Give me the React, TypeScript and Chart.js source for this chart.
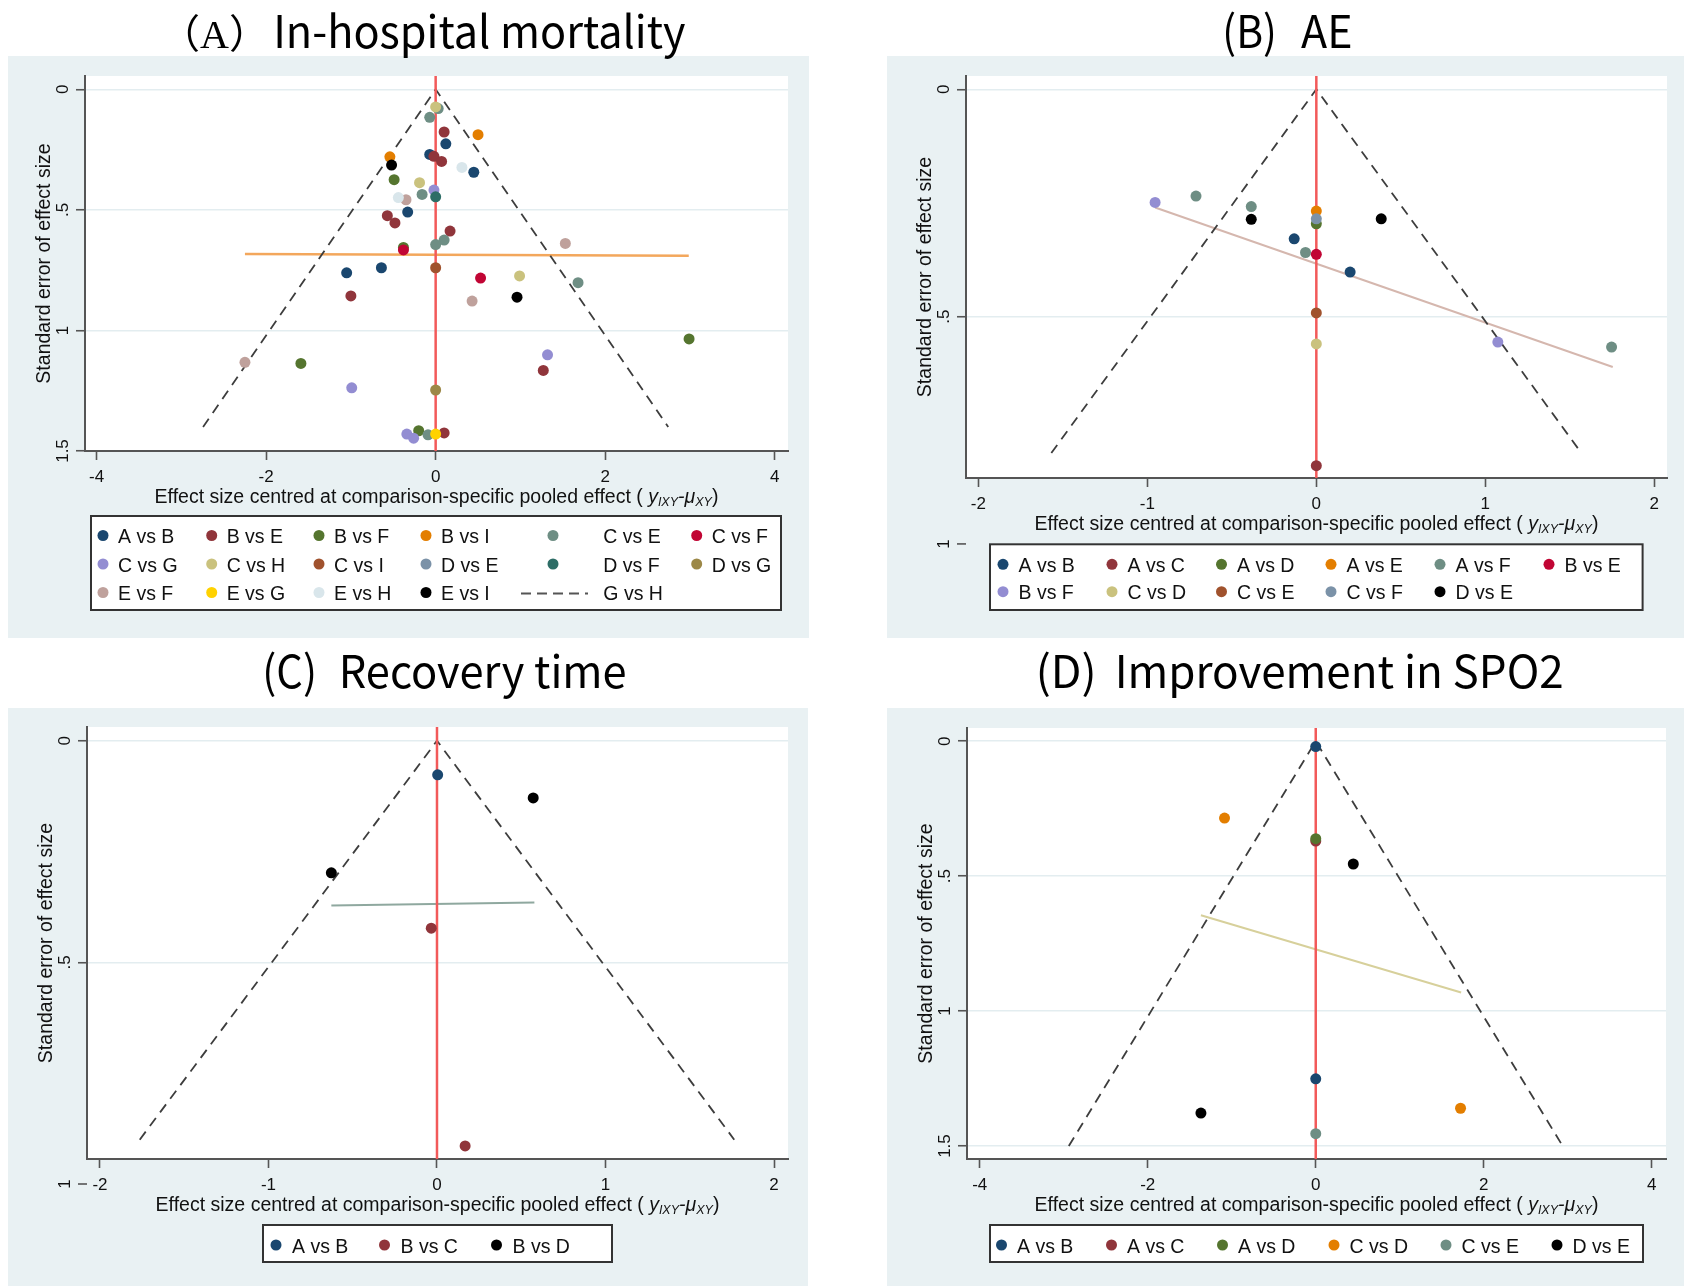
import React, { useEffect, useRef } from "react";
import { Chart, registerables } from "chart.js";
Chart.register(...registerables);

// ======================= DATA =======================
// ---------- Panel A : In-hospital mortality ----------
const aComparisons = ["A vs B", "B vs E", "B vs F", "B vs I", "C vs E", "C vs F", "C vs G", "C vs H", "C vs I", "D vs E", "D vs F", "D vs G", "E vs F", "E vs G", "E vs H", "E vs I"];
const aLineLegend = "G vs H";
const aPointCmp = ["C vs E", "C vs H", "C vs E", "B vs E", "B vs I", "A vs B", "A vs B", "B vs E", "B vs E", "B vs I", "E vs I", "E vs H", "A vs B", "B vs F", "C vs H", "C vs G", "C vs E", "D vs F", "E vs H", "E vs F", "A vs B", "B vs E", "B vs E", "B vs E", "C vs E", "C vs E", "B vs F", "C vs F", "E vs F", "A vs B", "A vs B", "C vs I", "C vs F", "C vs H", "C vs E", "B vs E", "E vs I", "E vs F", "B vs F", "C vs G", "E vs F", "B vs F", "B vs E", "C vs G", "D vs G", "B vs F", "C vs G", "C vs G", "C vs E", "E vs G", "B vs E"];
const aPointX = [0.03, 0.0, -0.07, 0.1, 0.5, 0.12, -0.07, -0.02, 0.07, -0.54, -0.52, 0.31, 0.45, -0.49, -0.19, -0.02, -0.16, 0.0, -0.44, -0.35, -0.33, -0.57, -0.48, 0.17, 0.1, 0.0, -0.38, -0.38, 1.53, -1.05, -0.64, 0.0, 0.53, 0.99, 1.68, -1.0, 0.96, 0.43, 2.99, 1.32, -2.25, -1.59, 1.27, -0.99, 0.0, -0.2, -0.34, -0.26, -0.09, 0.0, 0.1];
const aPointY = [0.08, 0.073, 0.116, 0.177, 0.188, 0.226, 0.27, 0.278, 0.299, 0.28, 0.314, 0.324, 0.344, 0.375, 0.387, 0.418, 0.436, 0.446, 0.449, 0.458, 0.509, 0.524, 0.554, 0.588, 0.625, 0.644, 0.656, 0.666, 0.639, 0.761, 0.74, 0.74, 0.783, 0.774, 0.802, 0.857, 0.862, 0.878, 1.035, 1.101, 1.132, 1.137, 1.166, 1.238, 1.247, 1.416, 1.43, 1.447, 1.433, 1.43, 1.425];
const aFunnelX = [-2.744, 0, 2.744];
const aFunnelY = [1.4, 0, 1.4];
const aFitX = [-2.25, 2.986];
const aFitY = [0.683, 0.69];
const aXTicks = [-4, -2, 0, 2, 4];
const aXTickLabels = ["-4", "-2", "0", "2", "4"];
const aYTicks = [0, 0.5, 1, 1.5];
const aYTickLabels = ["0", ".5", "1", "1.5"];

// ---------- Panel B : AE ----------
const bComparisons = ["A vs B", "A vs C", "A vs D", "A vs E", "A vs F", "B vs E", "B vs F", "C vs D", "C vs E", "C vs F", "D vs E"];
const bPointCmp = ["B vs F", "A vs F", "A vs F", "D vs E", "A vs E", "C vs F", "A vs D", "D vs E", "A vs B", "A vs F", "B vs E", "A vs B", "C vs E", "C vs D", "B vs F", "A vs F", "A vs C"];
const bPointX = [-0.954, -0.712, -0.385, -0.385, 0, 0, 0, 0.384, -0.131, -0.064, 0, 0.2, 0, 0, 1.074, 1.747, 0];
const bPointY = [0.249, 0.235, 0.258, 0.286, 0.268, 0.285, 0.296, 0.285, 0.329, 0.359, 0.363, 0.402, 0.492, 0.56, 0.556, 0.567, 0.828];
const bFunnelX = [-1.568, 0, 1.568];
const bFunnelY = [0.8, 0, 0.8];
const bFitX = [-0.954, 1.754];
const bFitY = [0.26, 0.611];
const bXTicks = [-2, -1, 0, 1, 2];
const bXTickLabels = ["-2", "-1", "0", "1", "2"];
const bYTicks = [0, 0.5];
const bYTickLabels = ["0", ".5"];
const bYExtraTicks = [1];
const bYExtraLabels = ["1"];

// ---------- Panel C : Recovery time ----------
const cComparisons = ["A vs B", "B vs C", "B vs D"];
const cPointCmp = ["A vs B", "B vs D", "B vs D", "B vs C", "B vs C"];
const cPointX = [0.004, 0.571, -0.627, -0.034, 0.167];
const cPointY = [0.077, 0.129, 0.298, 0.423, 0.914];
const cFunnelX = [-1.764, 0, 1.764];
const cFunnelY = [0.9, 0, 0.9];
const cFitX = [-0.627, 0.578];
const cFitY = [0.372, 0.365];
const cXTicks = [-2, -1, 0, 1, 2];
const cXTickLabels = ["-2", "-1", "0", "1", "2"];
const cYTicks = [0, 0.5];
const cYTickLabels = ["0", ".5"];
const cYExtraTicks = [1];
const cYExtraLabels = ["1"];

// ---------- Panel D : Improvement in SPO2 ----------
const dComparisons = ["A vs B", "A vs C", "A vs D", "C vs D", "C vs E", "D vs E"];
const dPointCmp = ["A vs B", "C vs D", "A vs C", "A vs D", "D vs E", "A vs B", "C vs D", "D vs E", "C vs E"];
const dPointX = [0, -1.086, 0, 0, 0.447, 0, 1.724, -1.367, 0];
const dPointY = [0.02, 0.285, 0.37, 0.361, 0.455, 1.251, 1.36, 1.378, 1.454];
const dFunnelX = [-2.94, 0, 2.94];
const dFunnelY = [1.5, 0, 1.5];
const dFitX = [-1.367, 1.731];
const dFitY = [0.645, 0.931];
const dXTicks = [-4, -2, 0, 2, 4];
const dXTickLabels = ["-4", "-2", "0", "2", "4"];
const dYTicks = [0, 0.5, 1, 1.5];
const dYTickLabels = ["0", ".5", "1", "1.5"];

// ---------- Texts ----------
const yTitleText = "Standard error of effect size";
const xTitleMain = "Effect size centred at comparison-specific pooled effect ( ";
const xTitleY = "y";
const xTitleSub1 = "IXY";
const xTitleDash = "-";
const xTitleMu = "μ";
const xTitleSub2 = "XY";
const xTitleEnd = ")";

// ======================= STYLES =======================
const NAVY = "#1a476f", MAROON = "#90353b", FOREST = "#55752f", DKORANGE = "#e37e00", TEAL = "#6e8e84",
  CRANBERRY = "#c10534", LAVENDER = "#938dd2", KHAKI = "#cac27e", SIENNA = "#a0522d", EMIDBLUE = "#7b92a8",
  EMERALD = "#2d6d66", BROWN = "#9c8847", EROSE = "#bfa19c", GOLD = "#ffd200", BLUISHGRAY = "#d9e6eb", BLACK = "#000000";
const aColors = [NAVY, MAROON, FOREST, DKORANGE, TEAL, CRANBERRY, LAVENDER, KHAKI, SIENNA, EMIDBLUE, EMERALD, BROWN, EROSE, GOLD, BLUISHGRAY, BLACK];
const bColors = [NAVY, MAROON, FOREST, DKORANGE, TEAL, CRANBERRY, LAVENDER, KHAKI, SIENNA, EMIDBLUE, BLACK];
const cColors = [NAVY, MAROON, BLACK];
const dColors = [NAVY, MAROON, FOREST, DKORANGE, TEAL, BLACK];

const GREY_BG = "#e9f1f3";
const GRID = "#e3edf0";
const AXIS = "#555555";
const TEXT = "#111111";
const RED = "#f25a5a";
const FUNNEL = "#3d3d3d";
const FONT = '"Liberation Sans", Arial, sans-serif';
const TITLE_FONT = '"Noto Sans CJK SC", "Noto Sans", sans-serif';

// ======================= LAYOUT =======================
type Run = { text: string; font: string; l: number; r: number };
const PANELS: any[] = [
  {
    key: "A", cell: { x: 0, y: 0, w: 842, h: 643 }, grey: { x: 8, y: 56, w: 801, h: 582 },
    plot: { l: 85, t: 76, r: 788, b: 451 }, xMin: -4.137, xMax: 4.157, yMin: -0.0552, yMax: 1.5,
    comparisons: aComparisons, colors: aColors, pointCmp: aPointCmp, pointX: aPointX, pointY: aPointY,
    funnelX: aFunnelX, funnelY: aFunnelY, fitX: aFitX, fitY: aFitY, fitColor: "#f3a75c", fitWidth: 2.6,
    xTicks: aXTicks, xTickLabels: aXTickLabels, yTicks: aYTicks, yTickLabels: aYTickLabels, yExtra: [], yExtraLabels: [],
    title: { baseline: 48, runs: [
      { text: "（A）", font: `40px "Liberation Serif", "Noto Sans CJK SC"`, l: 187, r: 242 },
      { text: "In-hospital mortality", font: `45px ${TITLE_FONT}`, l: 277, r: 685 }] as Run[] },
    legend: { box: { l: 91, t: 516, r: 781, b: 610 }, rows: [535.5, 564, 592.5],
      markerX: [103, 211.7, 319, 426, 553, 696.7], textX: [118, 226.7, 334, 441, 603.3, 711.7],
      line: { label: aLineLegend, l: 521, r: 588 } },
  },
  {
    key: "B", cell: { x: 842, y: 0, w: 842, h: 643 }, grey: { x: 887, y: 56, w: 797, h: 582 },
    plot: { l: 966, t: 76, r: 1667, b: 478 }, xMin: -2.073, xMax: 2.075, yMin: -0.0292, yMax: 0.855,
    comparisons: bComparisons, colors: bColors, pointCmp: bPointCmp, pointX: bPointX, pointY: bPointY,
    funnelX: bFunnelX, funnelY: bFunnelY, fitX: bFitX, fitY: bFitY, fitColor: "#d5b7ae", fitWidth: 2,
    xTicks: bXTicks, xTickLabels: bXTickLabels, yTicks: bYTicks, yTickLabels: bYTickLabels, yExtra: bYExtraTicks, yExtraLabels: bYExtraLabels,
    title: { baseline: 48, runs: [
      { text: "(B)", font: `45px ${TITLE_FONT}`, l: 1226, r: 1274 },
      { text: "AE", font: `45px ${TITLE_FONT}`, l: 1301, r: 1351 }] as Run[] },
    legend: { box: { l: 990, t: 544.3, r: 1642.6, b: 610 }, rows: [564.3, 591.7],
      markerX: [1003, 1112, 1221.5, 1331, 1440, 1549], textX: [1018.5, 1127.5, 1237, 1346.5, 1455.5, 1564.5] },
  },
  {
    key: "C", cell: { x: 0, y: 643, w: 842, h: 643 }, grey: { x: 8, y: 708, w: 800, h: 578 },
    plot: { l: 87, t: 727, r: 788, b: 1159 }, xMin: -2.077, xMax: 2.083, yMin: -0.0309, yMax: 0.9436,
    comparisons: cComparisons, colors: cColors, pointCmp: cPointCmp, pointX: cPointX, pointY: cPointY,
    funnelX: cFunnelX, funnelY: cFunnelY, fitX: cFitX, fitY: cFitY, fitColor: "#8fa89f", fitWidth: 2,
    xTicks: cXTicks, xTickLabels: cXTickLabels, yTicks: cYTicks, yTickLabels: cYTickLabels, yExtra: cYExtraTicks, yExtraLabels: cYExtraLabels,
    title: { baseline: 688, runs: [
      { text: "(C)", font: `45px ${TITLE_FONT}`, l: 266, r: 314 },
      { text: "Recovery time", font: `45px ${TITLE_FONT}`, l: 342.6, r: 625.7 }] as Run[] },
    legend: { box: { l: 263, t: 1225, r: 612, b: 1262 }, rows: [1245],
      markerX: [276, 384.5, 496.5], textX: [292, 400.5, 512.5] },
  },
  {
    key: "D", cell: { x: 842, y: 643, w: 842, h: 643 }, grey: { x: 887, y: 708, w: 797, h: 578 },
    plot: { l: 967, t: 728, r: 1666, b: 1159 }, xMin: -4.152, xMax: 4.17, yMin: -0.0489, yMax: 1.548,
    comparisons: dComparisons, colors: dColors, pointCmp: dPointCmp, pointX: dPointX, pointY: dPointY,
    funnelX: dFunnelX, funnelY: dFunnelY, fitX: dFitX, fitY: dFitY, fitColor: "#d7d09b", fitWidth: 2,
    xTicks: dXTicks, xTickLabels: dXTickLabels, yTicks: dYTicks, yTickLabels: dYTickLabels, yExtra: [], yExtraLabels: [],
    title: { baseline: 688, runs: [
      { text: "(D)", font: `45px ${TITLE_FONT}`, l: 1039.6, r: 1093.3 },
      { text: "Improvement in SPO2", font: `45px ${TITLE_FONT}`, l: 1118.6, r: 1561.7 }] as Run[] },
    legend: { box: { l: 990, t: 1225, r: 1643, b: 1262 }, rows: [1245],
      markerX: [1001.5, 1111.5, 1222.5, 1334, 1446, 1557], textX: [1017, 1127, 1238, 1349.5, 1461.5, 1572.5] },
  },
];

const Y_AXIS_W = 40;
const X_AXIS_H = 40;

function makeDecorPlugin(P: any) {
  const ox = P.cell.x, oy = P.cell.y;
  return {
    id: "decor" + P.key,
    beforeDraw(chart: any) {
      const ctx = chart.ctx;
      const a = chart.chartArea;
      ctx.save();
      ctx.fillStyle = "#ffffff";
      ctx.fillRect(0, 0, chart.width, chart.height);
      ctx.fillStyle = GREY_BG;
      ctx.fillRect(P.grey.x - ox, P.grey.y - oy, P.grey.w, P.grey.h);
      ctx.fillStyle = "#ffffff";
      ctx.fillRect(a.left, a.top, a.right - a.left, a.bottom - a.top);
      ctx.restore();
    },
    afterDraw(chart: any) {
      const ctx = chart.ctx;
      const a = chart.chartArea;
      const xs = chart.scales.x, ys = chart.scales.y;
      ctx.save();
      ctx.fillStyle = TEXT;
      ctx.textBaseline = "alphabetic";

      // y tick labels (rotated)
      ctx.font = `17px ${FONT}`;
      ctx.textAlign = "center";
      const drawYLabel = (txt: string, py: number) => {
        ctx.save();
        ctx.translate(a.left - 17, py);
        ctx.rotate(-Math.PI / 2);
        ctx.fillText(txt, 0, 0);
        ctx.restore();
      };
      P.yTicks.forEach((v: number, i: number) => drawYLabel(P.yTickLabels[i], ys.getPixelForValue(v)));
      // extra y ticks beyond the plot region
      P.yExtra.forEach((v: number, i: number) => {
        const py = ys.getPixelForValue(v);
        ctx.strokeStyle = AXIS;
        ctx.lineWidth = 1.6;
        ctx.beginPath();
        ctx.moveTo(a.left - 9, py);
        ctx.lineTo(a.left, py);
        ctx.stroke();
        drawYLabel(P.yExtraLabels[i], py);
      });

      // x tick labels
      P.xTicks.forEach((v: number, i: number) => {
        ctx.fillText(P.xTickLabels[i], xs.getPixelForValue(v), a.bottom + 30.5);
      });

      // y title
      ctx.font = `19.5px ${FONT}`;
      ctx.save();
      ctx.translate(a.left - 35.5, (a.top + a.bottom) / 2);
      ctx.rotate(-Math.PI / 2);
      ctx.fillText(yTitleText, 0, 0);
      ctx.restore();

      // x title with italic / subscript parts
      const segs = [
        { t: xTitleMain, f: `19.5px ${FONT}`, dy: 0 },
        { t: xTitleY, f: `italic 19.5px ${FONT}`, dy: 0 },
        { t: xTitleSub1, f: `italic 12.5px ${FONT}`, dy: 3 },
        { t: xTitleDash, f: `italic 19.5px ${FONT}`, dy: 0 },
        { t: xTitleMu, f: `italic 19.5px ${FONT}`, dy: 0 },
        { t: xTitleSub2, f: `italic 12.5px ${FONT}`, dy: 3 },
        { t: xTitleEnd, f: `19.5px ${FONT}`, dy: 0 },
      ];
      let total = 0;
      const widths = segs.map((s) => { ctx.font = s.f; const w = ctx.measureText(s.t).width; total += w; return w; });
      let cx = (a.left + a.right) / 2 - total / 2;
      ctx.textAlign = "left";
      segs.forEach((s, i) => {
        ctx.font = s.f;
        ctx.fillText(s.t, cx, a.bottom + 52 + s.dy);
        cx += widths[i];
      });

      // panel title
      ctx.fillStyle = "#000000";
      P.title.runs.forEach((run: Run) => {
        ctx.font = run.font;
        ctx.textAlign = "left";
        const m = ctx.measureText(run.text);
        const inkL = m.actualBoundingBoxLeft, inkR = m.actualBoundingBoxRight;
        const sx = (run.r - run.l) / (inkL + inkR);
        ctx.save();
        ctx.translate(run.l - ox + inkL * sx, P.title.baseline - oy);
        ctx.scale(sx, 1);
        ctx.fillText(run.text, 0, 0);
        ctx.restore();
      });

      // legend
      const L = P.legend;
      ctx.fillStyle = "#ffffff";
      ctx.fillRect(L.box.l - ox, L.box.t - oy, L.box.r - L.box.l, L.box.b - L.box.t);
      ctx.strokeStyle = "#333333";
      ctx.lineWidth = 2;
      ctx.strokeRect(L.box.l - ox, L.box.t - oy, L.box.r - L.box.l, L.box.b - L.box.t);
      const ncol = L.markerX.length;
      const items: any[] = P.comparisons.map((name: string, i: number) => ({ name, color: P.colors[i], kind: "dot" }));
      if (L.line) items.push({ name: L.line.label, kind: "line" });
      ctx.font = `19.5px ${FONT}`;
      ctx.textAlign = "left";
      items.forEach((it, k) => {
        const col = k % ncol, row = Math.floor(k / ncol);
        const cy = L.rows[row] - oy;
        if (it.kind === "dot") {
          ctx.fillStyle = it.color;
          ctx.beginPath();
          ctx.arc(L.markerX[col] - ox, cy, 5.5, 0, Math.PI * 2);
          ctx.fill();
        } else {
          ctx.strokeStyle = "#555555";
          ctx.lineWidth = 2;
          ctx.setLineDash([10, 6]);
          ctx.beginPath();
          ctx.moveTo(L.line.l - ox, cy + 1);
          ctx.lineTo(L.line.r - ox, cy + 1);
          ctx.stroke();
          ctx.setLineDash([]);
        }
        ctx.fillStyle = TEXT;
        ctx.fillText(it.name, L.textX[col] - ox, cy + 7.5);
      });
      ctx.restore();
    },
  };
}

function buildDatasets(P: any) {
  const ds: any[] = [];
  P.comparisons.forEach((name: string, i: number) => {
    const pts: any[] = [];
    P.pointCmp.forEach((c: string, j: number) => {
      if (c === name) pts.push({ x: P.pointX[j], y: P.pointY[j] });
    });
    if (pts.length) {
      ds.push({
        label: name, data: pts, showLine: false, pointRadius: 5.5, pointHoverRadius: 5.5,
        pointBackgroundColor: P.colors[i], backgroundColor: P.colors[i], borderColor: P.colors[i],
        borderWidth: 0, pointBorderWidth: 0, order: -i,
      });
    }
  });
  ds.push({
    label: "zero", data: [{ x: 0, y: P.yMin - 0.05 }, { x: 0, y: P.yMax + 0.05 }], showLine: true,
    borderColor: RED, borderWidth: 2.5, pointRadius: 0, fill: false, order: 20,
  });
  ds.push({
    label: "funnel", data: P.funnelX.map((x: number, k: number) => ({ x, y: P.funnelY[k] })), showLine: true,
    borderColor: FUNNEL, borderWidth: 1.8, borderDash: [10, 7], pointRadius: 0, fill: false, order: 21,
  });
  ds.push({
    label: "fit", data: P.fitX.map((x: number, k: number) => ({ x, y: P.fitY[k] })), showLine: true,
    borderColor: P.fitColor, borderWidth: P.fitWidth, pointRadius: 0, fill: false, order: 22,
  });
  return ds;
}

function makeChart(canvas: HTMLCanvasElement, P: any) {
  const c = P.cell, pl = P.plot;
  const padLeft = pl.l - c.x - Y_AXIS_W;
  const padTop = pl.t - c.y;
  const padRight = c.x + c.w - pl.r;
  const padBottom = c.y + c.h - pl.b - X_AXIS_H;
  return new Chart(canvas, {
    type: "scatter",
    data: { datasets: buildDatasets(P) },
    options: {
      animation: false,
      responsive: false,
      devicePixelRatio: 1,
      events: [],
      layout: { padding: { left: padLeft, top: padTop, right: padRight, bottom: padBottom } },
      plugins: { legend: { display: false }, tooltip: { enabled: false }, title: { display: false } },
      scales: {
        x: {
          type: "linear", position: "bottom", min: P.xMin, max: P.xMax,
          afterBuildTicks: (s: any) => { s.ticks = P.xTicks.map((v: number) => ({ value: v })); },
          afterFit: (s: any) => { s.height = X_AXIS_H; },
          ticks: { display: false },
          grid: { display: true, drawOnChartArea: false, drawTicks: true, tickLength: 9, tickColor: AXIS, tickWidth: 1.6 },
          border: { display: true, color: AXIS, width: 2 },
        },
        y: {
          type: "linear", position: "left", reverse: true, min: P.yMin, max: P.yMax,
          afterBuildTicks: (s: any) => { s.ticks = P.yTicks.map((v: number) => ({ value: v })); },
          afterFit: (s: any) => { s.width = Y_AXIS_W; },
          ticks: { display: false },
          grid: { display: true, drawOnChartArea: true, color: GRID, lineWidth: 1.5, drawTicks: true, tickLength: 9, tickColor: AXIS, tickWidth: 1.6 },
          border: { display: true, color: AXIS, width: 2 },
        },
      },
    } as any,
    plugins: [makeDecorPlugin(P)],
  });
}

export default function App() {
  const refs = useRef<(HTMLCanvasElement | null)[]>([]);
  useEffect(() => {
    const charts = PANELS.map((P, i) => makeChart(refs.current[i] as HTMLCanvasElement, P));
    return () => charts.forEach((ch) => ch.destroy());
  }, []);
  return (
    <div style={{ position: "absolute", left: 0, top: 0, width: 1684, height: 1286, background: "#ffffff", overflow: "hidden" }}>
      {PANELS.map((P, i) => (
        <canvas
          key={P.key}
          ref={(el) => { refs.current[i] = el; }}
          width={P.cell.w}
          height={P.cell.h}
          style={{ position: "absolute", left: P.cell.x, top: P.cell.y, width: P.cell.w, height: P.cell.h }}
        />
      ))}
    </div>
  );
}
